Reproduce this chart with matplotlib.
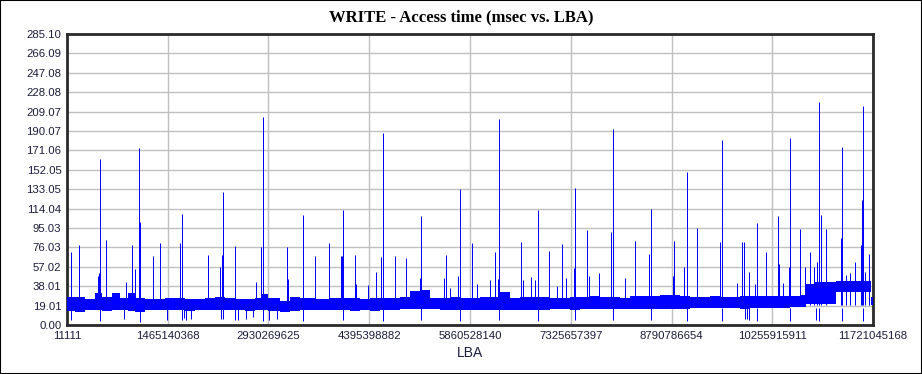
import numpy as np
import matplotlib
matplotlib.use('Agg')
from matplotlib import pyplot as plt
from matplotlib.patches import Rectangle

# LBA positions are in units of 1e9 sectors
G = 1e9

# noise band of the access time (msec), step-wise envelope
band_lba = [0.0000111, 0.116, 0.262, 0.407, 0.509, 0.654, 0.771, 0.887, 0.989,
            1.134, 1.280, 1.425, 1.571, 1.716, 1.861, 2.007, 2.152, 2.298,
            2.443, 2.589, 2.734, 2.836, 2.923, 3.097, 3.243, 3.388, 3.606,
            3.825, 3.970, 4.115, 4.261, 4.406, 4.552, 4.697, 4.843, 4.988,
            5.133, 5.279, 5.424, 5.570, 5.715, 5.860, 6.006, 6.151, 6.297,
            6.442, 6.588, 6.733, 6.878, 7.024, 7.169, 7.315, 7.460, 7.605,
            7.751, 7.896, 8.042, 8.187, 8.333, 8.478, 8.623, 8.769, 8.914,
            9.060, 9.205, 9.351, 9.496, 9.641, 9.787, 9.932, 10.078, 10.223,
            10.368, 10.514, 10.659, 10.732, 10.747, 10.877, 11.023, 11.168,
            11.183, 11.314, 11.459, 11.605, 11.677, 11.692, 11.721045168]
band_low = [14, 13, 15, 15, 14, 15, 15, 14, 13, 15, 15, 15, 15, 14, 15, 15,
            15, 15, 15, 14, 15, 15, 14, 13, 14, 15, 15, 15, 15, 14, 15, 14,
            15, 15, 16, 16, 16, 16, 15, 15, 15, 15, 15, 15, 15, 15, 15, 15,
            15, 16, 16, 15, 16, 16, 16, 16, 16, 16, 16, 16, 16, 16, 16, 17,
            17, 17, 17, 17, 16, 17, 17, 17, 17, 18, 18, 18, 21, 21, 21, 21,
            32, 32, 32, 32, 32, 20, 20]
band_high = [27, 27, 25, 31, 27, 31, 26, 31, 26, 25, 25, 26, 26, 25, 25, 26,
             27, 26, 25, 25, 26, 30, 26, 24, 27, 26, 25, 26, 26, 26, 25, 26,
             26, 26, 27, 33, 34, 26, 26, 27, 26, 26, 27, 27, 32, 26, 27, 27,
             27, 26, 26, 27, 27, 28, 27, 27, 26, 28, 28, 28, 29, 29, 28, 27,
             27, 28, 27, 27, 28, 28, 28, 28, 28, 28, 29, 30, 40, 42, 42, 42,
             43, 43, 43, 43, 43, 27, 27]

# upward spikes: position, peak (msec)
spike_lba = [0.063, 0.179, 0.450, 0.470, 0.484, 0.572, 0.862, 0.950, 0.993,
             1.051, 1.066, 1.255, 1.348, 1.648, 1.677, 2.055, 2.229, 2.258,
             2.273, 2.447, 2.753, 2.821, 2.855, 3.204, 3.218, 3.436, 3.611,
             3.814, 3.989, 4.003, 4.018, 4.193, 4.207, 4.382, 4.498, 4.571,
             4.600, 4.774, 4.934, 5.129, 5.152, 5.487, 5.516, 5.574, 5.690,
             5.719, 5.893, 5.967, 6.156, 6.228, 6.272, 6.287, 6.598, 6.636,
             6.743, 6.810, 6.854, 7.014, 7.130, 7.203, 7.261, 7.377, 7.392,
             7.566, 7.595, 7.741, 7.915, 7.944, 8.119, 8.264, 8.468, 8.497,
             8.817, 8.832, 8.977, 9.020, 9.166, 9.500, 9.529, 9.748, 9.820,
             9.849, 9.922, 10.009, 10.038, 10.169, 10.344, 10.358, 10.417,
             10.504, 10.518, 10.664, 10.736, 10.809, 10.867, 10.911, 10.940,
             10.969, 11.042, 11.260, 11.275, 11.333, 11.391, 11.464, 11.551,
             11.565, 11.580, 11.609, 11.667]
spike_peak = [71.2, 78.4, 48, 51, 162.6, 83.3, 42.1, 78.4, 54.9,
              173.1, 100.9, 67.6, 80.0, 80.0, 108.7, 68.6, 56.8, 68.6,
              130.3, 77.4, 42.1, 76.4, 203.5, 76.4, 45, 107.5, 67.6,
              80.0, 67.6, 68, 112.4, 68.6, 40, 39, 51.9, 66.6,
              188.1, 67.6, 65.6, 46, 106.8, 46, 68.6, 36, 48,
              132.9, 80.0, 40, 44, 71.2, 45, 201.8, 81.3, 44,
              47, 44, 112.7, 72.5, 38, 79.4, 46, 56, 134.2,
              93.1, 48, 51, 91.1, 192.0, 46, 82.3, 69.6, 113.6,
              48, 82.3, 56.8, 149.9, 95.0, 81.3, 181.2, 41, 81.3,
              81.3, 51.9, 40, 99.9, 71.5, 106.8, 60, 41,
              57, 183.2, 94.0, 57, 71.5, 57, 62, 218.5,
              107.8, 94.0, 85.2, 174.4, 49, 51, 62, 78.4,
              122.5, 214.6, 52, 69.6]

# downward spikes: position, minimum (msec)
dip_lba = [0.063, 0.484, 0.833, 1.066, 1.450, 1.677, 1.706, 1.735, 1.803,
           2.244, 2.273, 2.447, 2.487, 2.599, 2.705, 2.855, 2.942, 3.058,
           3.436, 4.018, 4.600, 5.152, 5.719, 6.287, 6.854, 7.392, 7.944,
           8.497, 9.020, 9.529, 9.864, 9.893, 9.922, 10.038, 10.518, 10.896,
           10.940, 11.275, 11.580]
dip_min = [5, 4, 6, 2.5, 5, 5, 7, 5, 6,
           6, 6, 5, 5, 6, 8, 4, 5, 6,
           4, 5, 4, 5, 4, 5, 3.5, 5, 5,
           5, 4, 4, 6, 6, 5, 4, 4, 5,
           4, 4, 4]

x_ticks = [11111, 1465140368, 2930269625, 4395398882, 5860528140,
           7325657397, 8790786654, 10255915911, 11721045168]
y_tick_labels = ['0.00', '19.01', '38.01', '57.02', '76.03', '95.03', '114.04',
                 '133.05', '152.05', '171.06', '190.07', '209.07', '228.08',
                 '247.08', '266.09', '285.10']
y_max = 285.10

text_color = '#1c1c3c'
blue = '#0000ff'

fig = plt.figure(figsize=(9.22, 3.74), dpi=100)
fig.patch.set_facecolor('white')
fig.patches.append(Rectangle((0, 0), 1, 1, transform=fig.transFigure,
                             fill=False, edgecolor='black', linewidth=1.5))
ax = fig.add_axes([67 / 922, 49 / 374, 806 / 922, 291 / 374])

band_x = np.array(band_lba) * G
ax.fill_between(band_x, band_low, band_high, step='post', color=blue,
                linewidth=0, zorder=3)
ax.vlines(np.array(spike_lba) * G, 20, spike_peak, color=blue,
          linewidth=0.72, snap=True, zorder=3)
ax.vlines(np.array(dip_lba) * G, dip_min, 17, color=blue,
          linewidth=0.72, snap=True, zorder=3)

ax.set_xlim(x_ticks[0], x_ticks[-1])
ax.set_ylim(0, y_max)
ax.set_xticks(x_ticks)
ax.set_xticklabels([str(v) for v in x_ticks])
ax.set_yticks(np.linspace(0, y_max, len(y_tick_labels)))
ax.set_yticklabels(y_tick_labels)
ax.tick_params(length=0, labelsize=8.2, colors=text_color, pad=4)
for lab in ax.get_xticklabels() + ax.get_yticklabels():
    lab.set_family(['Liberation Sans', 'DejaVu Sans'])
ax.grid(True, color='#c0c0c0', linewidth=1.0, zorder=0)
ax.set_axisbelow(True)
for sp in ax.spines.values():
    sp.set_color('#2a2a2a')
    sp.set_linewidth(2.0)

ax.set_xlabel('LBA', fontsize=10, color=text_color,
              family=['Liberation Sans', 'DejaVu Sans'], labelpad=4)
fig.text(0.5, 1 - 17 / 374, 'WRITE - Access time (msec vs. LBA)',
         ha='center', va='center', fontsize=12, fontweight='bold',
         family=['Liberation Serif', 'DejaVu Serif'], color='black')

fig.savefig('out.png', dpi=100)
